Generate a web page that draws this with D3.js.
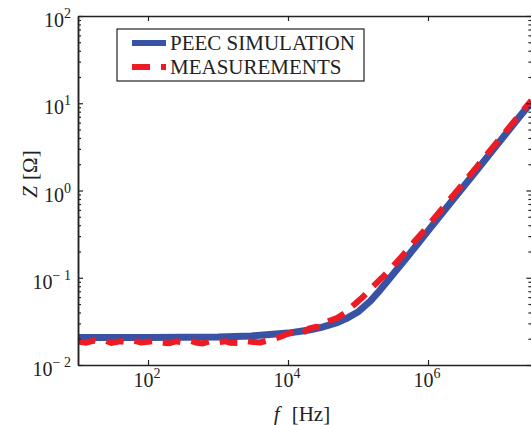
<!DOCTYPE html>
<html>
<head>
<meta charset="utf-8">
<script src="https://cdn.jsdelivr.net/npm/d3@7/dist/d3.min.js"></script>
<style>
  body { margin: 0; background: #fff; }
  text { font-family: "Liberation Serif", "Times New Roman", Times, serif; fill: #222; }
</style>
</head>
<body>
<svg id="chart" width="531" height="425"></svg>
<script>
// PEEC simulation (blue)
const simFreq = [10, 100, 1e3, 3e3, 1e4, 2e4, 3e4, 5e4, 7e4, 1e5, 1.5e5, 2e5, 3e5, 5e5, 7e5, 1e6, 2e6, 5e6, 1e7, 2e7, 3e7];
const simZ = [0.0207, 0.0207, 0.0209, 0.0215, 0.0232, 0.0252, 0.0270, 0.0305, 0.0345, 0.0405, 0.054, 0.070, 0.104, 0.172, 0.240, 0.345, 0.69, 1.72, 3.45, 6.9, 10.3];

// measurements (red, dashed)
const measFreq = [10, 13, 17, 20, 25, 30, 40, 50, 60, 80, 100, 130, 150, 200, 250, 300, 400, 500, 600, 800, 1e3, 1.3e3, 1.5e3, 2e3, 2.5e3, 3e3, 4e3, 5e3, 6e3, 8e3, 1e4, 1.2e4, 1.5e4, 2e4, 2.5e4, 3e4, 3.7e4, 5e4, 6.5e4, 8e4, 1.17e5, 1.5e5, 2.2e5, 3e5, 4.3e5, 6e5, 8.2e5, 1e6, 2e6, 5e6, 1e7, 2e7, 3e7];
const measZ = [0.0186, 0.0180, 0.0190, 0.0183, 0.0189, 0.0179, 0.0187, 0.0182, 0.0191, 0.0181, 0.0185, 0.0189, 0.0180, 0.0178, 0.0187, 0.0183, 0.0189, 0.0180, 0.0177, 0.0188, 0.0182, 0.0187, 0.0180, 0.0179, 0.0189, 0.0185, 0.0181, 0.0190, 0.0196, 0.0212, 0.0228, 0.0238, 0.0224, 0.0262, 0.0274, 0.0266, 0.0315, 0.0345, 0.0394, 0.046, 0.060, 0.074, 0.100, 0.130, 0.178, 0.245, 0.325, 0.395, 0.77, 1.88, 3.7, 7.3, 10.8];

// tick labels
const xTicks = [1e2, 1e4, 1e6];
const xTickExp = ["2", "4", "6"];
const yTicks = [1e-2, 1e-1, 1e0, 1e1, 1e2];
const yTickExp = ["\u2212 2", "\u2212 1", "0", "1", "2"];

const legendNames = ["PEEC SIMULATION", "MEASUREMENTS"];

const svg = d3.select("#chart");
const plotLeft = 78, plotRight = 531.4, plotTop = 16, plotBottom = 365;
const blue = "#3953a4", red = "#ed1c24", ink = "#222";

const x = d3.scaleLog().domain([10, 3e7]).range([plotLeft, plotRight]);
const y = d3.scaleLog().domain([1e-2, 1e2]).range([plotBottom, plotTop]);

// minor y ticks
const yMinor = [];
for (let e = -2; e < 2; e++) for (let k = 2; k < 10; k++) yMinor.push(k * Math.pow(10, e));

svg.append("clipPath").attr("id", "clip")
  .append("rect").attr("x", plotLeft).attr("y", plotTop)
  .attr("width", plotRight - plotLeft).attr("height", plotBottom - plotTop);

const line = d3.line().x(d => x(d[0])).y(d => y(d[1]));

const plot = svg.append("g").attr("clip-path", "url(#clip)");
plot.append("path")
  .datum(simFreq.map((f, i) => [f, simZ[i]]))
  .attr("d", line)
  .attr("fill", "none")
  .attr("stroke", blue)
  .attr("stroke-width", 7);

plot.append("path")
  .datum(measFreq.map((f, i) => [f, measZ[i]]))
  .attr("d", line)
  .attr("fill", "none")
  .attr("stroke", red)
  .attr("stroke-width", 6)
  .attr("stroke-dasharray", "18,11");

// axes (ticks point inward)
function styleAxis(g) {
  g.select(".domain").attr("stroke", ink).attr("stroke-width", 1.5);
  g.selectAll(".tick line").attr("stroke", ink).attr("stroke-width", 1.2);
  g.selectAll(".tick text").remove();
}

svg.append("g").attr("transform", `translate(0,${plotBottom})`)
  .call(d3.axisBottom(x).tickValues(xTicks).tickSize(-5).tickSizeOuter(0)).call(styleAxis);
svg.append("g").attr("transform", `translate(0,${plotTop})`)
  .call(d3.axisTop(x).tickValues(xTicks).tickSize(-5).tickSizeOuter(0)).call(styleAxis);

svg.append("g").attr("transform", `translate(${plotLeft},0)`)
  .call(d3.axisLeft(y).tickValues(yMinor).tickSize(-3).tickSizeOuter(0)).call(styleAxis);
svg.append("g").attr("transform", `translate(${plotLeft},0)`)
  .call(d3.axisLeft(y).tickValues(yTicks).tickSize(-5).tickSizeOuter(0)).call(styleAxis);
svg.append("g").attr("transform", `translate(${plotRight},0)`)
  .call(d3.axisRight(y).tickValues(yMinor).tickSize(-3).tickSizeOuter(0)).call(styleAxis);
svg.append("g").attr("transform", `translate(${plotRight},0)`)
  .call(d3.axisRight(y).tickValues(yTicks).tickSize(-5).tickSizeOuter(0)).call(styleAxis);

// tick labels with superscripts
xTicks.forEach((v, i) => {
  const t = svg.append("text")
    .attr("x", x(v) - 1).attr("y", 387)
    .attr("text-anchor", "middle")
    .attr("font-size", 20);
  t.append("tspan").text("10");
  t.append("tspan").attr("dy", -9).attr("font-size", 14).text(xTickExp[i]);
});

yTicks.forEach((v, i) => {
  const t = svg.append("text")
    .attr("x", 71).attr("y", y(v) + 11)
    .attr("text-anchor", "end")
    .attr("font-size", 20);
  t.append("tspan").text("10");
  t.append("tspan").attr("dy", -9).attr("font-size", 14).text(yTickExp[i]);
});

// axis titles
const xt = svg.append("text").attr("x", 302).attr("y", 421)
  .attr("text-anchor", "middle").attr("font-size", 21);
xt.append("tspan").attr("font-style", "italic").text("f");
xt.append("tspan").attr("dx", 12).text("[Hz]");

const yt = svg.append("text").attr("transform", "translate(37,174) rotate(-90)")
  .attr("text-anchor", "middle").attr("font-size", 21);
yt.append("tspan").attr("font-style", "italic").text("Z");
yt.append("tspan").attr("dx", 6).text("[\u03A9]");

// legend
const legend = svg.append("g");
legend.append("rect")
  .attr("x", 117).attr("y", 29).attr("width", 247).attr("height", 52)
  .attr("fill", "#fff").attr("stroke", ink).attr("stroke-width", 1.2);
const legendStyle = [
  { color: blue, width: 6, dash: null, y: 43 },
  { color: red, width: 6, dash: "18,11", y: 67 },
];
legendNames.forEach((name, i) => {
  const s = legendStyle[i];
  legend.append("line")
    .attr("x1", 132).attr("x2", 166).attr("y1", s.y).attr("y2", s.y)
    .attr("stroke", s.color).attr("stroke-width", s.width)
    .attr("stroke-dasharray", s.dash);
  legend.append("text")
    .attr("x", 170).attr("y", s.y + 6.5)
    .attr("font-size", 21)
    .text(name);
});
</script>
</body>
</html>
